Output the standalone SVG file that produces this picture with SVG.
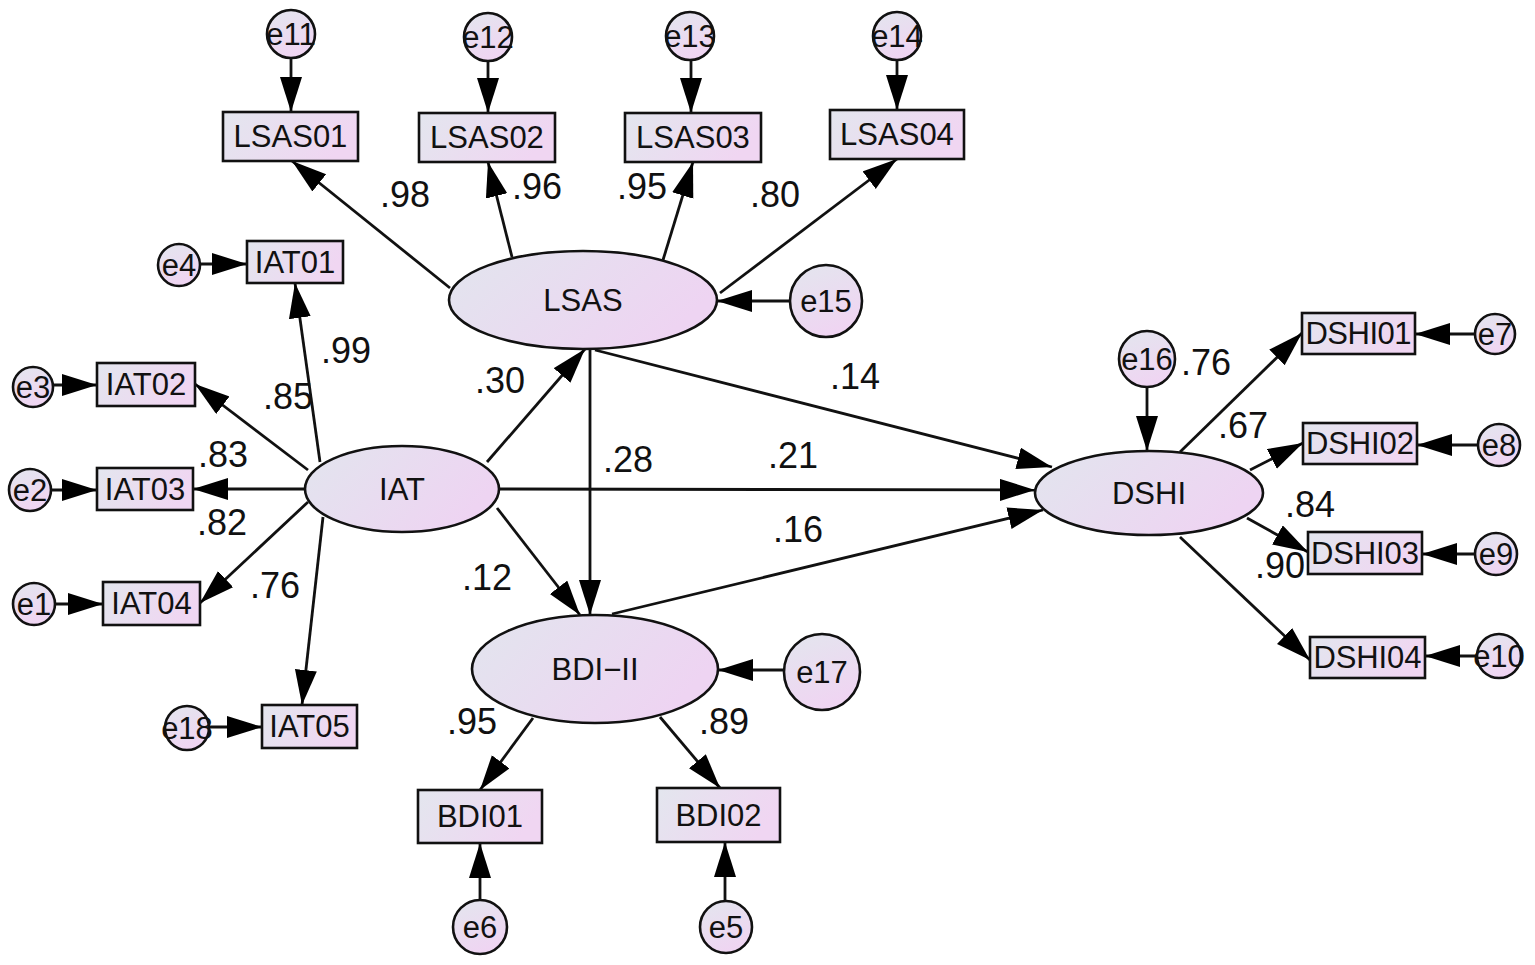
<svg xmlns="http://www.w3.org/2000/svg" width="1535" height="965" viewBox="0 0 1535 965">
<style>
.nd{stroke:#111;stroke-width:2.6}
.rc{fill:url(#gr)}
.el{fill:url(#ge)}
.ci{fill:url(#gc)}
.lb{font-family:"Liberation Sans",Arial,sans-serif;font-size:31px;fill:#111;text-anchor:middle}
.cf{font-family:"Liberation Sans",Arial,sans-serif;font-size:36px;fill:#111;text-anchor:middle}
.cn line{stroke:#111;stroke-width:2.8;marker-end:url(#ah)}
</style>
<defs>
<linearGradient id="gr" x1="0" y1="0" x2="1" y2="0.3"><stop offset="0" stop-color="#e3e6ee"/><stop offset="1" stop-color="#f0d6f2"/></linearGradient>
<linearGradient id="ge" x1="0" y1="0" x2="1" y2="0.4"><stop offset="0" stop-color="#e2e5ee"/><stop offset="1" stop-color="#eed4f2"/></linearGradient>
<linearGradient id="gc" x1="0" y1="0" x2="0.4" y2="1"><stop offset="0" stop-color="#e3e6ee"/><stop offset="1" stop-color="#efd5f2"/></linearGradient>
<marker id="ah" markerUnits="userSpaceOnUse" markerWidth="38" markerHeight="24" refX="35" refY="11" orient="auto"><path d="M0,0 L35,11 L0,22 z" fill="#000"/></marker>
</defs>
<rect width="1535" height="965" fill="#fff"/>
<g id="connectors" class="cn">
<line x1="291" y1="58" x2="291" y2="112"/>
<line x1="488" y1="61" x2="488" y2="113"/>
<line x1="691" y1="60" x2="691" y2="113"/>
<line x1="897" y1="60" x2="897" y2="110"/>
<line x1="450" y1="288" x2="292" y2="161"/>
<line x1="512" y1="257" x2="488" y2="162"/>
<line x1="663" y1="260" x2="693" y2="162"/>
<line x1="720" y1="293" x2="897" y2="159"/>
<line x1="790" y1="301" x2="717" y2="301"/>
<line x1="200" y1="264" x2="247" y2="264"/>
<line x1="53" y1="385" x2="97" y2="385"/>
<line x1="51" y1="490" x2="97" y2="490"/>
<line x1="55" y1="604" x2="103" y2="604"/>
<line x1="209" y1="727" x2="262" y2="727"/>
<line x1="320" y1="462" x2="295" y2="283"/>
<line x1="308" y1="470" x2="195" y2="384"/>
<line x1="305" y1="489" x2="193" y2="489"/>
<line x1="308" y1="502" x2="200" y2="603"/>
<line x1="323" y1="517" x2="302" y2="705"/>
<line x1="487" y1="462" x2="585" y2="349"/>
<line x1="500" y1="489" x2="1035" y2="490"/>
<line x1="497" y1="508" x2="580" y2="615"/>
<line x1="590" y1="350" x2="590" y2="615"/>
<line x1="595" y1="350" x2="1052" y2="467"/>
<line x1="612" y1="614" x2="1043" y2="510"/>
<line x1="1147" y1="387" x2="1147" y2="451"/>
<line x1="1180" y1="452" x2="1302" y2="333"/>
<line x1="1250" y1="470" x2="1303" y2="443"/>
<line x1="1247" y1="518" x2="1308" y2="552"/>
<line x1="1180" y1="537" x2="1310" y2="660"/>
<line x1="1475" y1="334" x2="1415" y2="334"/>
<line x1="1478" y1="445" x2="1417" y2="445"/>
<line x1="1475" y1="554" x2="1422" y2="554"/>
<line x1="1477" y1="656" x2="1425" y2="656"/>
<line x1="784" y1="670" x2="718" y2="670"/>
<line x1="533" y1="718" x2="480" y2="790"/>
<line x1="660" y1="717" x2="720" y2="788"/>
<line x1="480" y1="900" x2="480" y2="843"/>
<line x1="725" y1="901" x2="725" y2="842"/>
</g>
<g id="LSAS"><ellipse class="nd el" cx="583" cy="300" rx="134" ry="49"/><text class="lb" x="583" y="311">LSAS</text></g>
<g id="IAT"><ellipse class="nd el" cx="402" cy="489" rx="97" ry="43"/><text class="lb" x="402" y="500">IAT</text></g>
<g id="DSHI"><ellipse class="nd el" cx="1149" cy="493" rx="114" ry="42"/><text class="lb" x="1149" y="504">DSHI</text></g>
<g id="BDI-II"><ellipse class="nd el" cx="595" cy="669" rx="123" ry="54"/><text class="lb" x="595" y="680">BDI−II</text></g>
<g id="LSAS01"><rect class="nd rc" x="223" y="112" width="135" height="49"/><text class="lb" x="290.5" y="147">LSAS01</text></g>
<g id="LSAS02"><rect class="nd rc" x="419" y="113" width="136" height="49"/><text class="lb" x="487" y="148">LSAS02</text></g>
<g id="LSAS03"><rect class="nd rc" x="625" y="113" width="136" height="49"/><text class="lb" x="693" y="148">LSAS03</text></g>
<g id="LSAS04"><rect class="nd rc" x="830" y="110" width="134" height="49"/><text class="lb" x="897" y="145">LSAS04</text></g>
<g id="IAT01"><rect class="nd rc" x="247" y="241" width="96" height="42"/><text class="lb" x="295" y="273">IAT01</text></g>
<g id="IAT02"><rect class="nd rc" x="97" y="363" width="98" height="43"/><text class="lb" x="146" y="395">IAT02</text></g>
<g id="IAT03"><rect class="nd rc" x="97" y="468" width="96" height="42"/><text class="lb" x="145" y="500">IAT03</text></g>
<g id="IAT04"><rect class="nd rc" x="103" y="582" width="97" height="43"/><text class="lb" x="151.5" y="614">IAT04</text></g>
<g id="IAT05"><rect class="nd rc" x="262" y="705" width="95" height="43"/><text class="lb" x="309.5" y="737">IAT05</text></g>
<g id="DSHI01"><rect class="nd rc" x="1302" y="313" width="113" height="41"/><text class="lb" x="1358.5" y="344" textLength="106">DSHI01</text></g>
<g id="DSHI02"><rect class="nd rc" x="1303" y="423" width="114" height="41"/><text class="lb" x="1360" y="454" textLength="108">DSHI02</text></g>
<g id="DSHI03"><rect class="nd rc" x="1308" y="532" width="114" height="42"/><text class="lb" x="1365" y="564" textLength="108">DSHI03</text></g>
<g id="DSHI04"><rect class="nd rc" x="1310" y="637" width="115" height="41"/><text class="lb" x="1367.5" y="668" textLength="108">DSHI04</text></g>
<g id="BDI01"><rect class="nd rc" x="418" y="790" width="124" height="53"/><text class="lb" x="480" y="827">BDI01</text></g>
<g id="BDI02"><rect class="nd rc" x="657" y="788" width="123" height="54"/><text class="lb" x="718.5" y="826">BDI02</text></g>
<g id="e11"><circle class="nd ci" cx="291" cy="34" r="24"/><text class="lb" x="291" y="45">e11</text></g>
<g id="e12"><circle class="nd ci" cx="488" cy="37" r="24"/><text class="lb" x="488" y="48">e12</text></g>
<g id="e13"><circle class="nd ci" cx="690" cy="36" r="24"/><text class="lb" x="690" y="47">e13</text></g>
<g id="e14"><circle class="nd ci" cx="897" cy="36" r="24"/><text class="lb" x="897" y="47">e14</text></g>
<g id="e15"><circle class="nd ci" cx="826" cy="301" r="36"/><text class="lb" x="826" y="312">e15</text></g>
<g id="e4"><circle class="nd ci" cx="179" cy="265" r="21"/><text class="lb" x="179" y="276">e4</text></g>
<g id="e3"><circle class="nd ci" cx="33" cy="387" r="20"/><text class="lb" x="33" y="398">e3</text></g>
<g id="e2"><circle class="nd ci" cx="30" cy="490" r="21"/><text class="lb" x="30" y="501">e2</text></g>
<g id="e1"><circle class="nd ci" cx="34" cy="604" r="21"/><text class="lb" x="34" y="615">e1</text></g>
<g id="e18"><circle class="nd ci" cx="187" cy="728" r="22"/><text class="lb" x="187" y="739">e18</text></g>
<g id="e16"><circle class="nd ci" cx="1147" cy="359" r="28"/><text class="lb" x="1147" y="370">e16</text></g>
<g id="e7"><circle class="nd ci" cx="1495" cy="334" r="20"/><text class="lb" x="1495" y="345">e7</text></g>
<g id="e8"><circle class="nd ci" cx="1499" cy="445" r="21"/><text class="lb" x="1499" y="456">e8</text></g>
<g id="e9"><circle class="nd ci" cx="1496" cy="554" r="21"/><text class="lb" x="1496" y="565">e9</text></g>
<g id="e10"><circle class="nd ci" cx="1499" cy="656" r="22"/><text class="lb" x="1499" y="667">e10</text></g>
<g id="e17"><circle class="nd ci" cx="822" cy="672" r="38"/><text class="lb" x="822" y="683">e17</text></g>
<g id="e6"><circle class="nd ci" cx="480" cy="927" r="27"/><text class="lb" x="480" y="938">e6</text></g>
<g id="e5"><circle class="nd ci" cx="726" cy="927" r="26"/><text class="lb" x="726" y="938">e5</text></g>
<g id="coefficients">
<text class="cf" x="405" y="207">.98</text>
<text class="cf" x="537" y="199">.96</text>
<text class="cf" x="642" y="199">.95</text>
<text class="cf" x="775" y="207">.80</text>
<text class="cf" x="346" y="363">.99</text>
<text class="cf" x="288" y="409">.85</text>
<text class="cf" x="223" y="467">.83</text>
<text class="cf" x="222" y="535">.82</text>
<text class="cf" x="275" y="598">.76</text>
<text class="cf" x="500" y="393">.30</text>
<text class="cf" x="487" y="590">.12</text>
<text class="cf" x="628" y="472">.28</text>
<text class="cf" x="793" y="468">.21</text>
<text class="cf" x="855" y="389">.14</text>
<text class="cf" x="798" y="542">.16</text>
<text class="cf" x="472" y="734">.95</text>
<text class="cf" x="724" y="734">.89</text>
<text class="cf" x="1206" y="375">.76</text>
<text class="cf" x="1243" y="438">.67</text>
<text class="cf" x="1310" y="517">.84</text>
<text class="cf" x="1280" y="578">.90</text>
</g>
</svg>
